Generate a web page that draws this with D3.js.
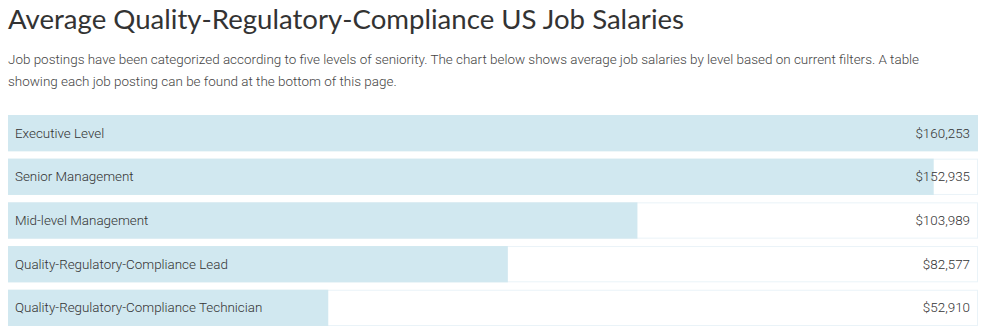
<!DOCTYPE html>
<html><head><meta charset="utf-8">
<script src="https://cdn.jsdelivr.net/npm/d3@7"></script>
<style>
body{margin:0;background:#fff;}
</style></head>
<body><svg id="c" width="986" height="334"></svg>
<script>
const categories = ["Executive Level","Senior Management","Mid-level Management","Quality-Regulatory-Compliance Lead","Quality-Regulatory-Compliance Technician"];
const salaries = [160253,152935,103989,82577,52910];
const title = "Average Quality-Regulatory-Compliance US Job Salaries";
const subtitleLines = ["Job postings have been categorized according to five levels of seniority. The chart below shows average job salaries by level based on current filters. A table","showing each job posting can be found at the bottom of this page."];

const svg = d3.select("#c");
svg.append("text").attr("x",8).attr("y",29).attr("font-family","Lato, 'Open Sans', sans-serif").attr("font-weight",400)
  .attr("font-size",27.6).attr("fill","#333").text(title);
svg.selectAll("text.sub").data(subtitleLines).join("text").attr("class","sub")
  .attr("x",8).attr("y",(d,i)=>64+i*22).attr("font-family","Roboto, sans-serif").attr("font-weight",300)
  .attr("font-size",13.45).attr("fill","#444").text(d=>d);

const left=8,right=978;
const x = d3.scaleLinear().domain([0,d3.max(salaries)]).range([left,right]);
const y = d3.scaleBand().domain(categories).range([115,326]).paddingInner(0.17).paddingOuter(0);
const fmt = d3.format("$,");
const g = svg.selectAll("g.row").data(categories).join("g").attr("class","row");
g.append("rect").attr("x",left+0.5).attr("y",d=>y(d)+0.5).attr("width",right-left-1).attr("height",y.bandwidth()-1)
  .attr("fill","#fff").attr("stroke","#eaf3f8");
g.append("rect").attr("x",left).attr("y",d=>y(d)).attr("width",(d,i)=>x(salaries[i])-left).attr("height",y.bandwidth())
  .attr("fill","#d1e8f0");
g.append("text").attr("x",15).attr("y",d=>y(d)+y.bandwidth()/2+4.5).attr("font-family","Roboto, sans-serif").attr("font-weight",300)
  .attr("font-size",13.4).attr("fill","#333").text(d=>d);
g.append("text").attr("x",970).attr("text-anchor","end").attr("y",d=>y(d)+y.bandwidth()/2+4.5).attr("font-family","Roboto, sans-serif").attr("font-weight",300)
  .attr("font-size",13.4).attr("fill","#333").text((d,i)=>fmt(salaries[i]));
</script></body></html>
